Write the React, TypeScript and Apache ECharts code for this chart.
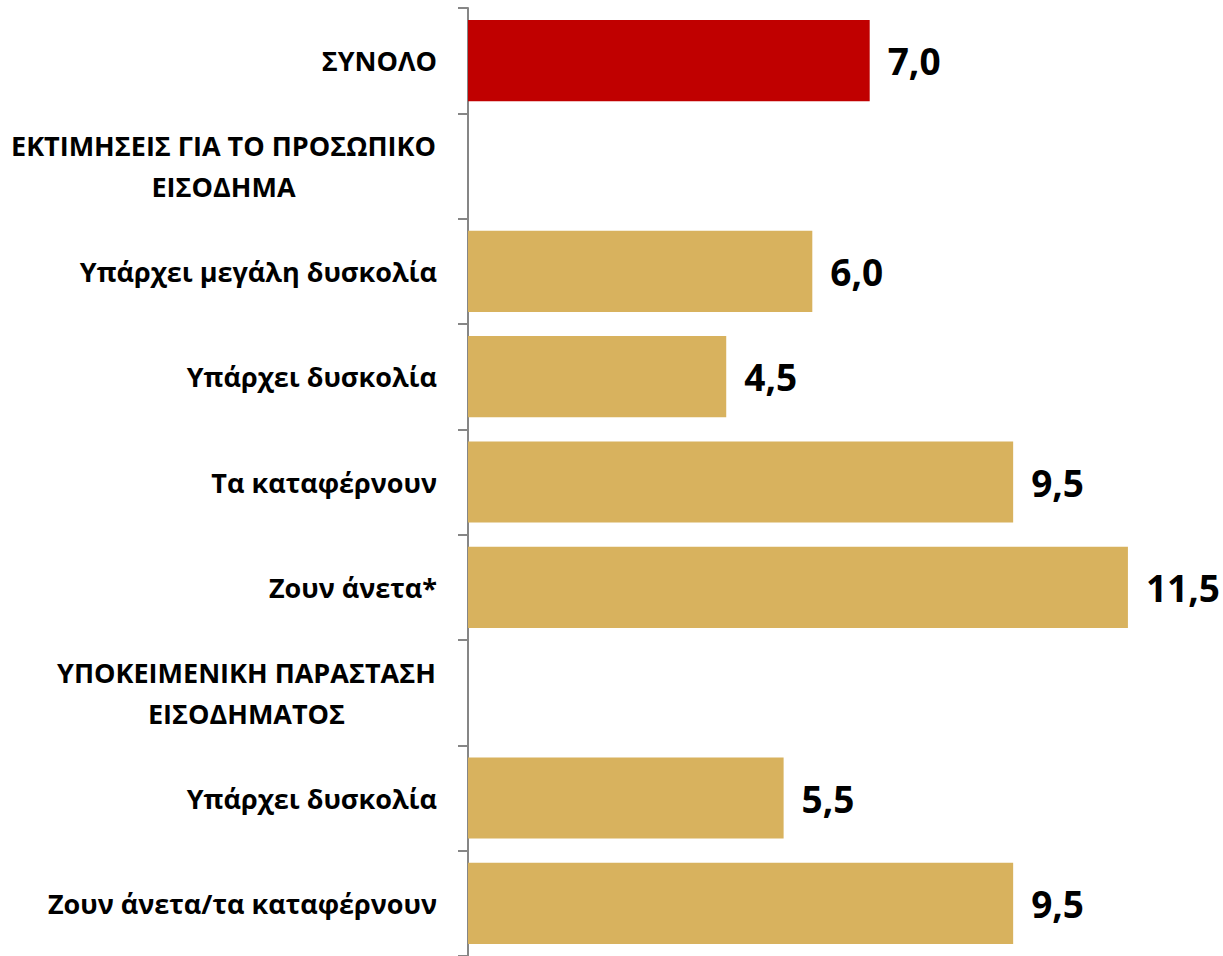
import React, { useEffect, useRef } from "react";
import * as echarts from "echarts";

const categories = [
  "ΣΥΝΟΛΟ",
  "ΕΚΤΙΜΗΣΕΙΣ ΓΙΑ ΤΟ ΠΡΟΣΩΠΙΚΟ\nΕΙΣΟΔΗΜΑ",
  "Υπάρχει μεγάλη δυσκολία",
  "Υπάρχει δυσκολία",
  "Τα καταφέρνουν",
  "Ζουν άνετα*",
  "ΥΠΟΚΕΙΜΕΝΙΚΗ ΠΑΡΑΣΤΑΣΗ\nΕΙΣΟΔΗΜΑΤΟΣ",
  "Υπάρχει δυσκολία",
  "Ζουν άνετα/τα καταφέρνουν",
];
const values: (number | null)[] = [7.0, null, 6.0, 4.5, 9.5, 11.5, null, 5.5, 9.5];
const totalColor = "#C00000";
const groupColor = "#D8B25E";

export default function App() {
  const ref = useRef<HTMLDivElement>(null);
  useEffect(() => {
    if (!ref.current) return;
    const chart = echarts.init(ref.current, null, { renderer: "svg" });
    const fontSize = 27;
    const canvas = document.createElement("canvas");
    const ctx = canvas.getContext("2d")!;
    ctx.font = `bold ${fontSize}px "Open Sans"`;
    const rich: Record<string, any> = {};
    const labelMap: Record<string, string> = {};
    categories.forEach((c, i) => {
      const key = c + "\u200B".repeat(i);
      if (c.indexOf("\n") < 0) {
        labelMap[key] = c;
        return;
      }
      const lines = c.split("\n");
      const w = Math.ceil(Math.max(...lines.map((l) => ctx.measureText(l).width))) + 2;
      const name = "m" + i;
      rich[name] = {
        width: w,
        align: "center",
        fontFamily: "Open Sans",
        fontWeight: "bold",
        fontSize,
        lineHeight: 41,
        color: "#000",
      };
      labelMap[key] = lines.map((l) => `{${name}|${l}}`).join("\n");
    });
    chart.setOption({
      animation: false,
      grid: { left: 468, top: 8, width: 746, height: 952 },
      xAxis: {
        type: "value",
        min: 0,
        max: 13,
        show: false,
      },
      yAxis: {
        type: "category",
        data: categories.map((c, i) => ({ value: c + "\u200B".repeat(i) })),
        inverse: true,
        axisLine: { show: true, lineStyle: { color: "#868686", width: 2 } },
        axisTick: { show: true, length: 10, lineStyle: { color: "#868686", width: 2 } },
        axisLabel: {
          margin: 31,
          fontFamily: "Open Sans",
          fontWeight: "bold",
          fontSize,
          lineHeight: 41,
          color: "#000",
          align: "right",
          formatter: (v: string) => labelMap[v] ?? v.replace(/\u200B/g, ""),
          rich,
        },
      },
      series: [
        {
          type: "bar",
          barCategoryGap: "23%",
          data: values.map((v, i) => ({
            value: v,
            itemStyle: { color: i === 0 ? totalColor : groupColor },
          })),
          label: {
            show: true,
            position: "right",
            distance: 18,
            fontFamily: "Open Sans",
            fontWeight: "bold",
            fontSize: 37,
            color: "#000",
            formatter: (p: any) => (p.value == null ? "" : p.value.toFixed(1).replace(".", ",")),
          },
        },
      ],
    });
    return () => chart.dispose();
  }, []);
  return (
    <div
      ref={ref}
      style={{ position: "fixed", left: 0, top: 0, width: 1223, height: 956, background: "#fff" }}
    />
  );
}
